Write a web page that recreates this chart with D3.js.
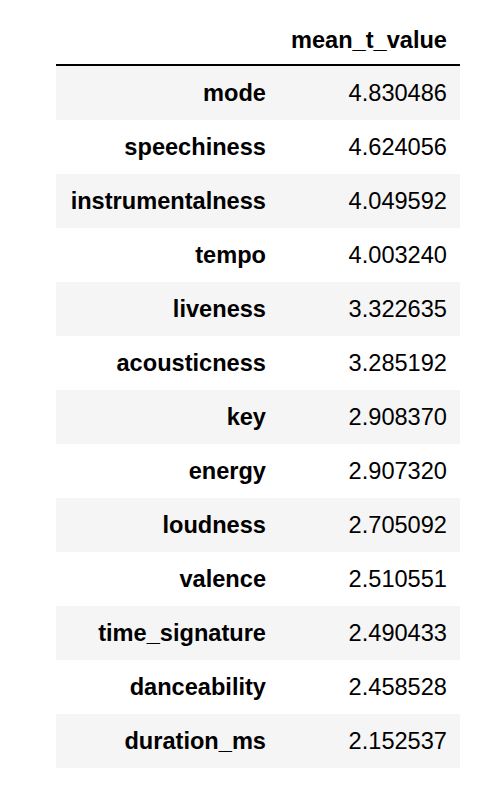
<!DOCTYPE html>
<html>
<head>
<meta charset="utf-8">
<script src="https://cdn.jsdelivr.net/npm/d3@7"></script>
<style>
  body { margin: 0; background: #fff; }
  svg text { font-family: "Liberation Sans", Arial, Helvetica, sans-serif; font-size: 23.6px; fill: #000; }
</style>
</head>
<body>
<svg id="table"></svg>
<script>
const features = ["mode", "speechiness", "instrumentalness", "tempo", "liveness",
  "acousticness", "key", "energy", "loudness", "valence", "time_signature",
  "danceability", "duration_ms"];
const meanTValues = [4.830486, 4.624056, 4.049592, 4.003240, 3.322635,
  3.285192, 2.908370, 2.907320, 2.705092, 2.510551, 2.490433,
  2.458528, 2.152537];
const columnName = "mean_t_value";

const width = 488, height = 786;
const left = 56, right = 460, indexRight = 279, pad = 13;

const svg = d3.select("#table")
  .attr("width", width)
  .attr("height", height);

const rows = features.map((f, i) => ({ name: f, value: meanTValues[i] }));

const y = d3.scaleBand()
  .domain(features)
  .range([66, 768])
  .paddingInner(0);

// header
svg.append("text")
  .attr("x", right - pad)
  .attr("y", 48)
  .attr("text-anchor", "end")
  .attr("font-weight", "bold")
  .text(columnName);

svg.append("line")
  .attr("x1", left)
  .attr("x2", right)
  .attr("y1", 65)
  .attr("y2", 65)
  .attr("stroke", "#000")
  .attr("stroke-width", 2);

const row = svg.selectAll("g.row")
  .data(rows)
  .enter()
  .append("g")
  .attr("class", "row")
  .attr("transform", d => `translate(0,${y(d.name)})`);

row.append("rect")
  .attr("x", left)
  .attr("y", 0)
  .attr("width", right - left)
  .attr("height", y.bandwidth())
  .attr("fill", (d, i) => i % 2 === 0 ? "#f5f5f5" : "#fff");

row.append("text")
  .attr("x", indexRight - pad)
  .attr("y", y.bandwidth() / 2 + 8)
  .attr("text-anchor", "end")
  .attr("font-weight", "bold")
  .text(d => d.name);

row.append("text")
  .attr("x", right - pad)
  .attr("y", y.bandwidth() / 2 + 8)
  .attr("text-anchor", "end")
  .text(d => d.value.toFixed(6));
</script>
</body>
</html>
